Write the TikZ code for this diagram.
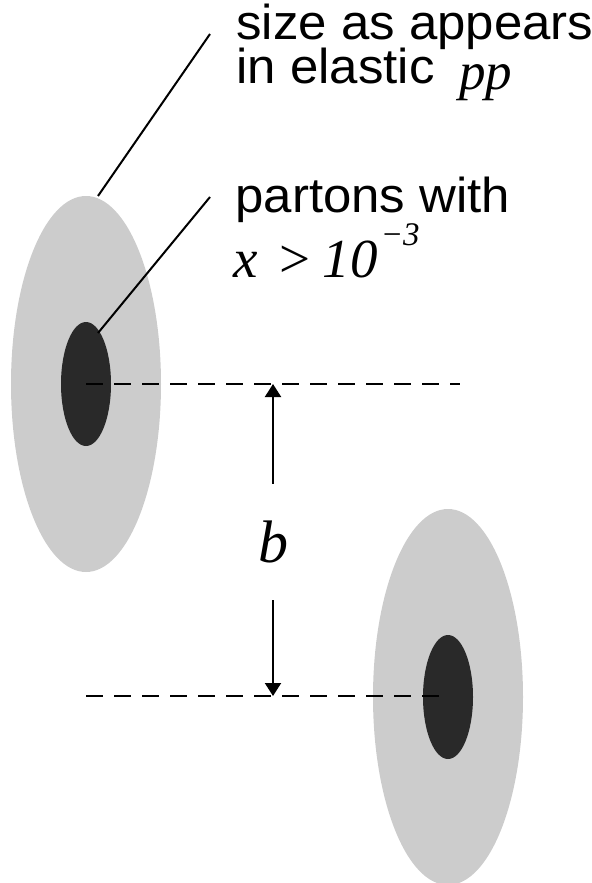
\documentclass[tikz,border=0pt]{standalone}
\usepackage{fontspec}
\setmainfont{Liberation Sans}[FakeStretch=1.04]
\newfontfamily\tms{Liberation Serif}
\usepackage{xcolor}
\usepackage{tikz}
\usetikzlibrary{arrows.meta}
\definecolor{protongray}{HTML}{CCCCCC}
\definecolor{partondark}{HTML}{292929}
\tikzset{
  lbl/.style={font=\fontsize{24.5}{26}\selectfont, inner sep=0pt, anchor=base west},
  mlbl/.style={font=\fontsize{27.5}{28}\tms\itshape, inner sep=0pt, anchor=base west},
  leader/.style={line width=1pt},
  guide/.style={line width=1pt, dash pattern=on 8.5pt off 5.5pt},
}

\begin{document}
\begin{tikzpicture}[x=0.5pt, y=-0.5pt]
\useasboundingbox (0,0) rectangle (591,883);
% the two protons, seen in the transverse plane
\fill[protongray] (86,384) ellipse [x radius=75, y radius=188];
\fill[partondark] (86,384) ellipse [x radius=25, y radius=62];
\fill[protongray] (448,697) ellipse [x radius=75, y radius=188];
\fill[partondark] (448,697) ellipse [x radius=25, y radius=62];
% centre lines
\coordinate (cL) at (86,384);
\coordinate (eL) at (460,384);
\coordinate (cR) at (448,696);
\coordinate (eR) at (86,696);
\draw[guide] (cL) -- (eL);
\draw[guide] (eR) -- (cR);
% impact parameter
\coordinate (bTop) at (273,384);
\coordinate (bBot) at (273,696);
\node[font=\fontsize{30}{32}\tms\itshape, inner sep=0pt, minimum height=58pt] (b) at (273,542) {b};
\draw [arrows = {-Triangle[length=6.5pt, width=8pt]}, line width=1pt] (b.north) -- (bTop);
\draw [arrows = {-Triangle[length=6.5pt, width=8pt]}, line width=1pt] (b.south) -- (bBot);
% labels
\node[lbl] (size1) at (236,40) {size as appears};
\node[lbl] (size2) at (236,83.5) {in elastic};
\node[mlbl, font=\fontsize{26.5}{28}\tms\itshape] (pp) at (459,90) {pp};
\node[lbl] (part1) at (235,212) {partons with};
\node[mlbl] (part2) at (233,277) {x\hspace{11pt}{\upshape >}\hspace{6pt}10\hspace{1.5pt}\raisebox{16pt}{\fontsize{16.5}{18}\selectfont −3}};
\coordinate (sizeTip) at (210,34);
\coordinate (sizeEnd) at (98,196);
\coordinate (partTip) at (210,197);
\coordinate (partEnd) at (98,333);
\draw[leader] (sizeTip) -- (sizeEnd);
\draw[leader] (partTip) -- (partEnd);
\end{tikzpicture}
\end{document}
